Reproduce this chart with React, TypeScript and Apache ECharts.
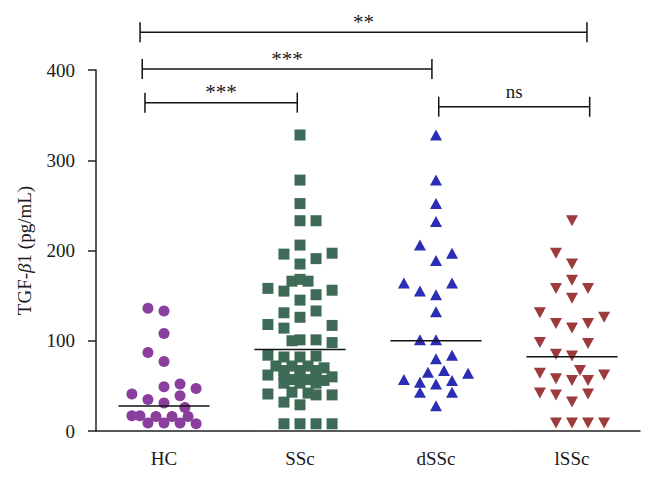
import React, { useEffect, useRef } from "react";
import * as echarts from "echarts";

const categories = ["HC", "SSc", "dSSc", "lSSc"];

// [jitter column, value]
const hcPoints: [number, number][] = [
  [-1, 136], [0, 133], [0, 108], [-1, 87], [0, 77], [1, 52], [0, 49], [2, 47],
  [-2, 41], [1, 39], [-1, 35], [0, 31], [1.3, 26], [-2, 17], [-1.5, 17],
  [-0.5, 16], [0.5, 16], [1.5, 16], [-1, 9], [0, 9], [1, 9], [2, 8],
];
const sscPoints: [number, number][] = [
  [0, 328], [0, 278], [0, 252], [0, 233], [1, 233], [0, 206], [-1, 196], [2, 197],
  [1, 191], [0, 185], [-0.5, 166], [0, 168], [0.5, 166], [-2, 158], [-1, 155],
  [1, 151], [2, 156], [0, 145], [-1, 131], [1, 133], [0, 126], [-2, 118], [-1, 114],
  [2, 117], [-0.5, 100], [0, 101], [1, 101], [2, 98], [-2, 84], [-1, 82], [0, 82],
  [1, 83], [-1.5, 72], [-0.5, 72], [0.5, 72], [1.5, 70], [-1, 67], [0, 67], [1, 67],
  [-2, 62], [-1, 62], [0, 62], [1, 62], [2, 60], [-0.5, 57], [0.5, 57], [1.5, 56],
  [-1, 53], [0, 53], [1, 53], [-2, 41], [-0.5, 43], [0.5, 42], [1, 40], [2, 40],
  [-1, 32], [0, 29], [-1, 8], [0, 8], [1, 8], [2, 8],
];
const dsscPoints: [number, number][] = [
  [0, 328], [0, 278], [0, 252], [0, 232], [-1, 206], [1, 197], [0, 189], [-2, 164],
  [1, 164], [-1, 155], [0, 151], [0, 132], [-1, 101], [0, 101], [0, 80], [1, 84],
  [-0.5, 65], [0.5, 67], [2, 64], [-2, 57], [-1, 54], [1, 56], [0, 52], [-1, 43],
  [1, 43], [0, 28],
];
const lsscPoints: [number, number][] = [
  [0, 233], [-1, 197], [0, 185], [0, 167], [-1, 158], [1, 158], [0, 147], [-2, 131],
  [2, 126], [-1, 119], [1, 119], [0, 114], [-2, 98], [1, 97], [-1, 85], [0, 83],
  [0.5, 67], [-2, 64], [-1, 58], [0, 56], [1, 56], [2, 62], [-2, 42], [-1, 40],
  [1, 41], [0, 32], [-1, 9], [0, 9], [1, 9], [2, 9],
];
const centerLines = [27.6, 90.4, 100, 82.2];

// brackets: [from (category units), to, level value]
const bracketSpans: [number, number, number][] = [
  [-0.176, 3.11, 441.8],
  [-0.16, 1.97, 401],
  [-0.14, 0.98, 363.8],
  [2.02, 3.13, 359.3],
];
const bracketLabels = ["**", "***", "***", "ns"];

const yTickMax = 400;
const yTickStep = 100;

const FONT = "Liberation Serif";
const STEP = 0.118;

export default function App() {
  const ref = useRef<HTMLDivElement>(null);
  useEffect(() => {
    if (!ref.current) return;
    const chart = echarts.init(ref.current, null, { renderer: "svg" });
    const groups = [
      { pts: hcPoints, symbol: "circle", size: 11, color: "#8a3f9e", rotate: 0 },
      { pts: sscPoints, symbol: "rect", size: 11, color: "#3e6b58", rotate: 0 },
      { pts: dsscPoints, symbol: "triangle", size: [12, 11], color: "#2b2eb5", rotate: 0 },
      { pts: lsscPoints, symbol: "triangle", size: [12, 11], color: "#9c3a3c", rotate: 180 },
    ];
    const scatterSeries = groups.map((g, i) => ({
      type: "scatter",
      name: categories[i],
      xAxisIndex: 1,
      yAxisIndex: 0,
      symbol: g.symbol,
      symbolSize: g.size,
      symbolRotate: g.rotate,
      itemStyle: { color: g.color, opacity: 1 },
      data: g.pts.map(([s, v]) => [i + s * STEP, v]),
      z: 2,
    }));
    const option: any = {
      animation: false,
      backgroundColor: "#ffffff",
      grid: { left: 96, right: 12, top: 70, bottom: 48 },
      xAxis: [
        {
          type: "category",
          data: categories,
          axisTick: { alignWithLabel: true, length: 8, lineStyle: { color: "#222", width: 1.5 } },
          axisLine: { onZero: false, lineStyle: { color: "#222", width: 1.5 } },
          axisLabel: { fontFamily: FONT, fontSize: 19, color: "#1a1a1a", margin: 18 },
        },
        { type: "value", min: -0.5, max: 3.5, show: false },
      ],
      yAxis: {
        type: "value",
        min: 0,
        max: yTickMax,
        interval: yTickStep,
        splitLine: { show: false },
        axisLine: { show: true, onZero: false, lineStyle: { color: "#222", width: 1.5 } },
        axisTick: { show: true, length: 8, lineStyle: { color: "#222", width: 1.5 } },
        axisLabel: { fontFamily: FONT, fontSize: 19, color: "#1a1a1a", margin: 21 },
        name: "TGF-{i|β}1 (pg/mL)",
        nameLocation: "middle",
        nameGap: 62,
        nameTextStyle: {
          fontFamily: FONT,
          fontSize: 19,
          color: "#1a1a1a",
          rich: { i: { fontFamily: FONT, fontSize: 19, fontStyle: "italic", color: "#1a1a1a" } },
        },
      },
      series: [
        ...scatterSeries,
        {
          type: "custom",
          xAxisIndex: 1,
          yAxisIndex: 0,
          z: 5,
          data: centerLines.map((v, i) => [i, v]),
          renderItem: (params: any, api: any) => {
            const x = api.value(0);
            const y = api.value(1);
            const p1 = api.coord([x - 0.335, y]);
            const p2 = api.coord([x + 0.335, y]);
            return {
              type: "line",
              shape: { x1: p1[0], y1: p1[1], x2: p2[0], y2: p2[1] },
              style: { stroke: "#111", lineWidth: 1.5 },
            };
          },
        },
        {
          type: "custom",
          xAxisIndex: 1,
          yAxisIndex: 0,
          clip: false,
          z: 5,
          data: bracketSpans,
          renderItem: (params: any, api: any) => {
            const a = api.coord([api.value(0), api.value(2)]);
            const b = api.coord([api.value(1), api.value(2)]);
            const st = { stroke: "#111", lineWidth: 1.5 };
            const label = bracketLabels[params.dataIndex];
            const isStar = label.indexOf("*") >= 0;
            return {
              type: "group",
              children: [
                { type: "line", shape: { x1: a[0], y1: a[1], x2: b[0], y2: b[1] }, style: st },
                { type: "line", shape: { x1: a[0], y1: a[1] - 10, x2: a[0], y2: a[1] + 10 }, style: st },
                { type: "line", shape: { x1: b[0], y1: b[1] - 10, x2: b[0], y2: b[1] + 10 }, style: st },
                {
                  type: "text",
                  x: (a[0] + b[0]) / 2,
                  y: a[1] - (isStar ? 0 : 6),
                  style: {
                    text: label,
                    fill: "#1a1a1a",
                    fontFamily: FONT,
                    fontSize: isStar ? 21 : 19,
                    align: "center",
                    verticalAlign: "bottom",
                  },
                },
              ],
            };
          },
        },
      ],
    };
    chart.setOption(option);
    return () => chart.dispose();
  }, []);
  return (
    <div
      ref={ref}
      style={{ position: "fixed", left: 0, top: 0, width: 652, height: 479, background: "#fff" }}
    />
  );
}
